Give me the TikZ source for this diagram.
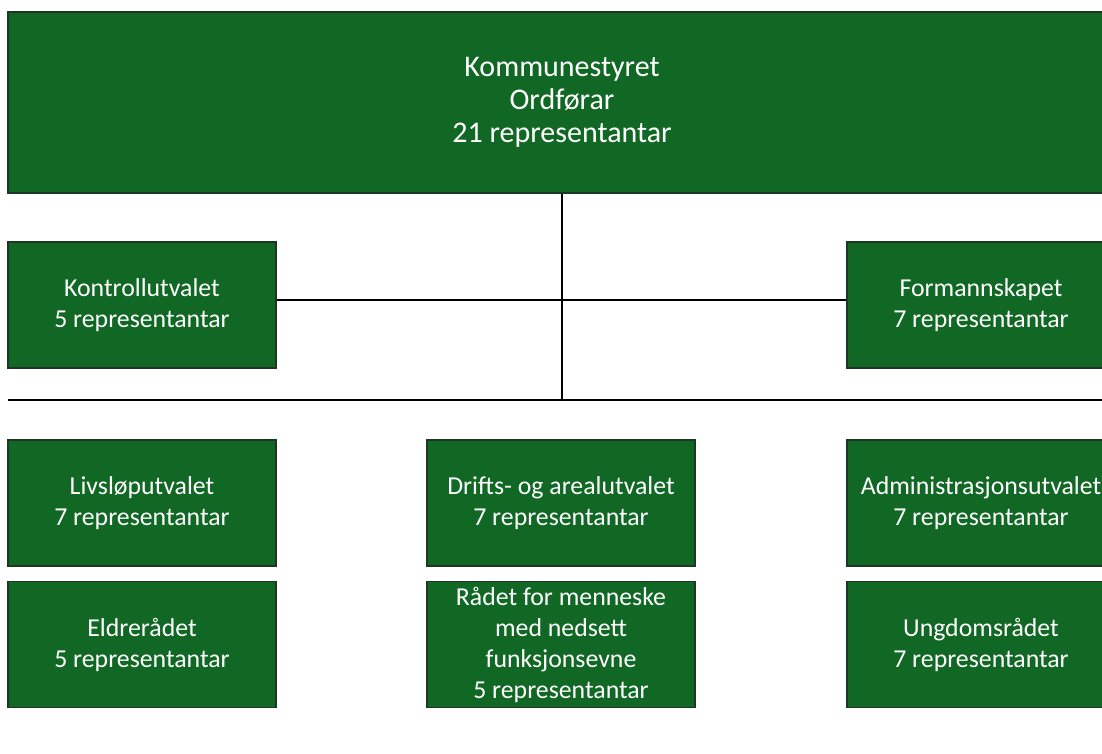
\documentclass[tikz,border=0pt]{standalone}
\usepackage{fontspec}
\setmainfont{Carlito}
\usepackage{tikz}
\usetikzlibrary{positioning}
\definecolor{boxgreen}{RGB}{17,104,36}
\definecolor{boxedge}{RGB}{32,54,36}
\tikzset{
  unit/.style={draw=boxedge, line width=1.5pt, fill=boxgreen, text=white,
    align=center, inner sep=0pt, minimum width=268pt, minimum height=126pt,
    font=\fontsize{25.8}{31}\selectfont},
  link/.style={line width=1.6pt, black}
}

\begin{document}
\begin{tikzpicture}[x=1pt,y=-1pt]
\useasboundingbox (0,0) rectangle (1102,753);
\clip (0,0) rectangle (1102,753);

% council on top
\node[unit, minimum width=1108pt, minimum height=181pt,
  font=\fontsize{30}{33}\selectfont] (kommune) at (562,102.5)
  {Kommunestyret\\Ordførar\\21 representantar};

% committees
\foreach \x/\y/\name/\descr in
{142/305/kontroll/{Kontrollutvalet\\5 representantar},
 981/305/formann/{Formannskapet\\7 representantar},
 142/503/livslop/{Livsløputvalet\\7 representantar},
 561/503/drift/{Drifts- og arealutvalet\\7 representantar},
 981/503/admin/{Administrasjonsutvalet\\7 representantar},
 142/644.5/eldre/{Eldrerådet\\5 representantar},
 561/644.5/radet/{Rådet for menneske\\med nedsett\\funksjonsevne\\5 representantar},
 981/644.5/ungdom/{Ungdomsrådet\\7 representantar}}
\node[unit] (\name) at (\x,\y) {\descr};

% lines
\coordinate (busL) at (8,400);
\coordinate (busR) at (1110,400);
\draw[link] (busL) -- (busR);
\draw[link] (kommune.south) -- (kommune.south |- busL);
\draw[link] ([yshift=5pt]kontroll.east) -- ([yshift=5pt]formann.west);
\end{tikzpicture}
\end{document}
